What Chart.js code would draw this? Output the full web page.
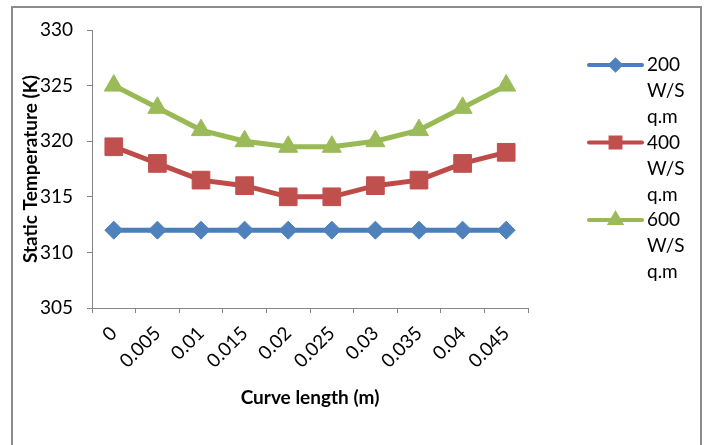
<!DOCTYPE html>
<html>
<head>
<meta charset="utf-8">
<title>Static Temperature vs Curve length</title>
<script src="https://cdn.jsdelivr.net/npm/chart.js@4/dist/chart.umd.min.js"></script>
<style>
  html, body { margin: 0; padding: 0; background: #fff; }
  canvas { display: block; }
</style>
</head>
<body>
<canvas id="tempChart" width="705" height="445"></canvas>
<script>
// Curve length (m) categories
const curveLength = ['0', '0.005', '0.01', '0.015', '0.02', '0.025', '0.03', '0.035', '0.04', '0.045'];

// Static temperature (K) per heat flux
const flux200 = [312, 312, 312, 312, 312, 312, 312, 312, 312, 312];
const flux400 = [319.5, 318, 316.5, 316, 315, 315, 316, 316.5, 318, 319];
const flux600 = [325, 323, 321, 320, 319.5, 319.5, 320, 321, 323, 325];

const seriesNames = [['200', 'W/S', 'q.m'], ['400', 'W/S', 'q.m'], ['600', 'W/S', 'q.m']];

const FONT = 'Lato, "Liberation Sans", sans-serif';
const AXIS_GREY = '#868686';

// outer frame like the Excel chart area
const framePlugin = {
    id: 'frame',
    afterDraw(chart) {
        const ctx = chart.ctx;
        ctx.save();
        ctx.strokeStyle = '#8c8c8c';
        ctx.lineWidth = 2;
        ctx.strokeRect(12, 7, 689, 460);
        ctx.restore();
    }
};

// legend with wrapped labels, drawn by hand
const wrapLegend = {
    id: 'wrapLegend',
    afterDraw(chart) {
        const ctx = chart.ctx;
        const markerSize = [5, 7, 6];
        ctx.save();
        chart.data.datasets.forEach((ds, i) => {
            const y = 65 + i * 77.5;
            ctx.strokeStyle = ds.borderColor;
            ctx.lineWidth = 4;
            ctx.lineCap = 'round';
            ctx.beginPath();
            ctx.moveTo(589, y);
            ctx.lineTo(642, y);
            ctx.stroke();
            ctx.fillStyle = ds.pointBackgroundColor;
            ctx.strokeStyle = ds.pointBackgroundColor;
            Chart.helpers.drawPoint(ctx, {
                pointStyle: ds.pointStyle,
                radius: markerSize[i],
                rotation: 0,
                borderWidth: 1
            }, 615.5, y);
            ctx.fillStyle = '#000';
            ctx.font = '19px ' + FONT;
            ctx.textAlign = 'left';
            ctx.textBaseline = 'middle';
            seriesNames[i].forEach((line, k) => ctx.fillText(line, 647, y + k * 26));
        });
        ctx.restore();
    }
};

new Chart(document.getElementById('tempChart'), {
    type: 'line',
    data: {
        labels: curveLength,
        datasets: [
            {
                label: '200 W/S q.m',
                data: flux200,
                borderColor: '#4a7ebb',
                borderWidth: 5,
                pointStyle: 'rectRot',
                pointRadius: 9,
                pointHoverRadius: 9,
                pointBackgroundColor: '#4f81bd',
                pointBorderColor: '#4f81bd',
                pointBorderWidth: 1,
                tension: 0,
            },
            {
                label: '400 W/S q.m',
                data: flux400,
                borderColor: '#be4b48',
                borderWidth: 5,
                pointStyle: 'rect',
                pointRadius: 12.5,
                pointHoverRadius: 12.5,
                pointBackgroundColor: '#c0504d',
                pointBorderColor: '#c0504d',
                pointBorderWidth: 1,
                tension: 0,
            },
            {
                label: '600 W/S q.m',
                data: flux600,
                borderColor: '#98b954',
                borderWidth: 5,
                pointStyle: 'triangle',
                pointRadius: 11,
                pointHoverRadius: 11,
                pointBackgroundColor: '#9bbb59',
                pointBorderColor: '#9bbb59',
                pointBorderWidth: 1,
                tension: 0,
            },
        ],
    },
    options: {
        responsive: false,
        devicePixelRatio: 1,
        animation: false,
        layout: {
            padding: { top: 30, left: 15, right: 705 - 528, bottom: 32 },
        },
        plugins: {
            legend: { display: false },
            tooltip: { enabled: false },
        },
        scales: {
            x: {
                offset: true,
                grid: {
                    offset: true,
                    drawOnChartArea: false,
                    tickLength: 5,
                    color: AXIS_GREY,
                },
                border: { color: AXIS_GREY, width: 1 },
                ticks: {
                    color: '#000',
                    font: { family: FONT, size: 19 },
                    minRotation: 45,
                    maxRotation: 45,
                    padding: 9,
                },
                title: {
                    display: true,
                    text: 'Curve length (m)',
                    color: '#000',
                    font: { family: FONT, size: 19, weight: 'bold' },
                    padding: { top: 4, bottom: 4 },
                },
                afterFit: s => { s.height = 413 - 308; },
            },
            y: {
                min: 305,
                max: 330,
                grid: {
                    drawOnChartArea: false,
                    tickLength: 5,
                    color: AXIS_GREY,
                },
                border: { color: AXIS_GREY, width: 1 },
                ticks: {
                    stepSize: 5,
                    color: '#000',
                    font: { family: FONT, size: 19 },
                    padding: 14,
                },
                title: {
                    display: true,
                    text: 'Static Temperature (K)',
                    color: '#000',
                    font: { family: FONT, size: 19, weight: 'bold' },
                    padding: { top: 4, bottom: 4 },
                },
                afterFit: s => { s.width = 92 - 15; },
            },
        },
    },
    plugins: [framePlugin, wrapLegend],
});
</script>
</body>
</html>
